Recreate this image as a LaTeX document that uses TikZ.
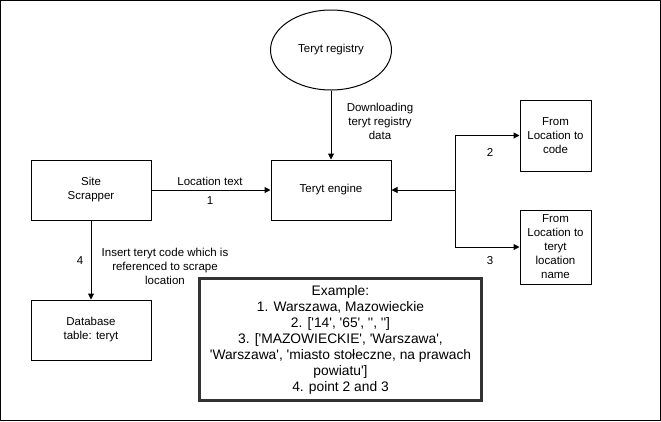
\documentclass[tikz,border=0pt]{standalone}
\usepackage{fontspec}
\setmainfont{Liberation Sans}[Ligatures=TeXOff]
\usetikzlibrary{arrows.meta,shapes.geometric}
\begin{document}
\begin{tikzpicture}[x=1pt,y=-1pt,
  every node/.style={font=\fontsize{11.5}{14}\selectfont},
  box/.style={draw,line width=1pt,minimum width=120pt,minimum height=60pt,align=center,inner sep=0pt},
  smallbox/.style={draw,line width=1pt,minimum width=71pt,align=center,inner sep=0pt},
  lbl/.style={align=center,inner sep=0pt},
  conn/.style={line width=1pt,-{Triangle[length=6pt,width=6pt]}}]
\useasboundingbox (0,0) rectangle (661,421);
\draw[line width=1pt] (0.5,0.5) rectangle (660.5,420);
\node[draw,line width=1pt,ellipse,minimum width=121pt,minimum height=80pt,inner sep=0pt] (reg) at (331,50) {Teryt registry};
\node[box] (eng) at (331,190) {Teryt engine};
\node[box] (site) at (91,190) {Site\\Scrapper};
\node[box] (db) at (91,330) {Database\\table: teryt};
\node[smallbox,minimum height=71pt] (code) at (555.5,135.5) {From\\Location to\\code};
\node[smallbox,minimum height=74pt] (name) at (555.5,247) {From\\Location to\\teryt\\location\\name};
\coordinate (j) at (455,190);
\draw[conn] (reg) -- (eng);
\draw[conn] (site) -- (eng);
\draw[conn] (site) -- (db);
\draw[conn] (j) -- (eng);
\draw[conn] (j) |- (code.west);
\draw[conn] (j) |- (name.west);
\node[lbl] (dl) at (380,121) {Downloading\\teryt registry\\data};
\node[lbl] (lt) at (210,181) {Location text};
\node[lbl] (n1) at (210,201) {1};
\node[lbl] (n2) at (490,152) {2};
\node[lbl] (n3) at (490,261) {3};
\node[lbl] (n4) at (80,261) {4};
\node[lbl] (ins) at (165,266) {Insert teryt code which is\\referenced to scrape\\location};
\node[draw=black!80,line width=2.5pt,minimum width=282pt,minimum height=122pt,align=center,inner sep=0pt,
  font=\fontsize{13.8}{16}\selectfont] (ex) at (340.5,339.5)
  {Example:\\1. Warszawa, Mazowieckie\\2. ['14', '65', '', '']\\3. ['MAZOWIECKIE', 'Warszawa',\\'Warszawa', 'miasto stołeczne, na prawach\\powiatu']\\4. point 2 and 3};
\end{tikzpicture}
\end{document}
